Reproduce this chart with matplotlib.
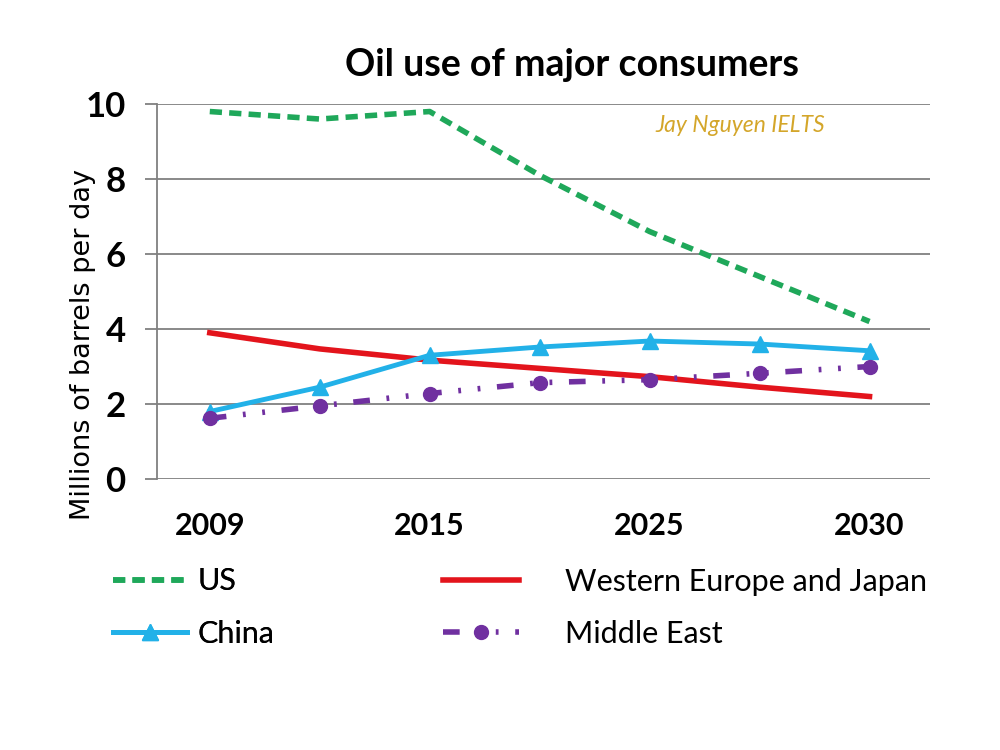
import numpy as np
import matplotlib.pyplot as plt

# Data (7 evenly spaced points, labelled at 2009, 2015, 2025, 2030)
points = [0, 1, 2, 3, 4, 5, 6]
tick_pos = [0, 2, 4, 6]
tick_labels = ['2009', '2015', '2025', '2030']

us = [9.8, 9.6, 9.8, 8.1, 6.6, 5.4, 4.2]
we_japan = [3.9, 3.47, 3.17, 2.95, 2.73, 2.45, 2.2]
china = [1.8, 2.45, 3.3, 3.52, 3.68, 3.6, 3.42]
middle_east = [1.62, 1.95, 2.28, 2.57, 2.65, 2.82, 3.0]

narrow = ['Lato', 'DejaVu Sans']

fig = plt.figure(figsize=(10, 7.5), dpi=100)
ax = fig.add_axes([0.157, 0.3613, 0.773, 0.5])

l_us, = ax.plot(points, us, color='#1fa85a', lw=4, ls=(0, (2.2, 1.3)), label='US')
l_we, = ax.plot(points, we_japan, color='#e3141c', lw=4, label='Western Europe and Japan')
l_cn, = ax.plot(points, china, color='#22b1e8', lw=3.5, marker='^', ms=11, label='China')
l_me, = ax.plot(points, middle_east, color='#7030a0', lw=4, marker='o', ms=10,
                ls=(0, (3, 3, 0.5, 3, 0.5, 3)), label='Middle East')

ax.set_xlim(-0.48, 6.55)
ax.set_ylim(0, 10)
ax.set_yticks([0, 2, 4, 6, 8, 10])
ax.set_xticks(tick_pos)
ax.set_xticklabels(tick_labels)
ax.grid(axis='y', color='#808080', lw=1.3)
ax.set_axisbelow(True)
for s in ['top', 'right', 'bottom']:
    ax.spines[s].set_visible(False)
ax.spines['left'].set_color('#808080')
ax.spines['left'].set_linewidth(1.3)
ax.tick_params(axis='y', length=8.6, width=1.3, color='#808080', pad=14)
ax.tick_params(axis='x', length=0, pad=24)
for t in ax.get_yticklabels():
    t.set_fontfamily(narrow)
    t.set_fontweight('bold')
    t.set_fontsize(25)
for t in ax.get_xticklabels():
    t.set_fontfamily(narrow)
    t.set_fontweight('bold')
    t.set_fontsize(22)

fig.text(0.572, 0.913, 'Oil use of major consumers', ha='center', va='center',
         fontsize=27, family=narrow, fontweight='bold')
fig.text(0.083, 1 - 345 / 750, 'Millions of barrels per day', rotation=90,
         ha='center', va='center', fontsize=19.5)
ax.text(0.754, 0.944, 'Jay Nguyen IELTS', transform=ax.transAxes, ha='center',
        va='center', fontsize=16.5, style='italic', color='#d4a62a', family=narrow)

# legend: two columns with different gaps, as in the original
leg1 = fig.legend(handles=[l_us, l_cn], loc='upper left',
                  bbox_to_anchor=(0.085, 0.28), frameon=False, handlelength=2.45,
                  labelspacing=0.79, handletextpad=0.33,
                  prop={'family': narrow, 'size': 22})
leg2 = fig.legend(handles=[l_we, l_me], loc='upper left',
                  bbox_to_anchor=(0.415, 0.28), frameon=False, handlelength=2.5,
                  labelspacing=0.79, handletextpad=1.5,
                  prop={'family': narrow, 'size': 22})
fig.add_artist(leg1)

fig.savefig('out.png', dpi=100, facecolor='white')
